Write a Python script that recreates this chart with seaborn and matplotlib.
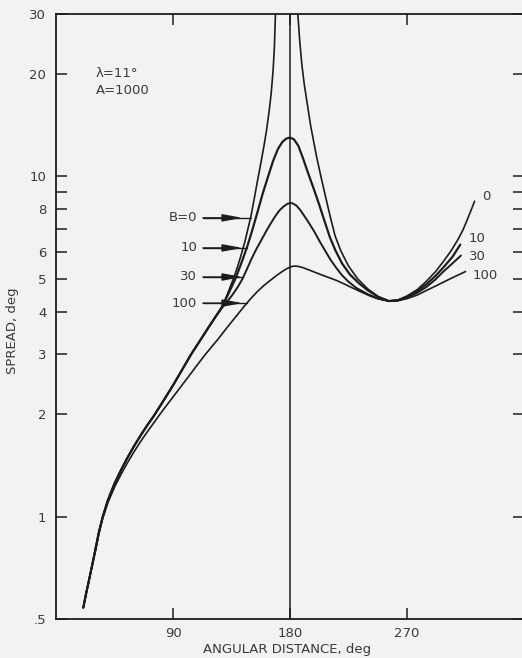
import matplotlib
matplotlib.use("Agg")
import matplotlib.pyplot as plt
import numpy as np
import pandas as pd
import seaborn as sns

# ---------------- data ----------------
# shared lower branch of the B=0, 10, 30 curves
low_deg = [21, 23, 25, 27.5, 30, 33, 36, 40, 45, 50, 55, 60, 65, 70, 75, 82, 90, 97, 104, 111, 118, 123]
low_val = [0.54, 0.59, 0.64, 0.71, 0.79, 0.9, 1.0, 1.12, 1.25, 1.37, 1.49, 1.61, 1.73, 1.85, 1.97, 2.17, 2.43, 2.7, 3.0, 3.3, 3.63, 3.88]

b0_left_deg = [128, 132, 136, 139, 142, 145.4, 148, 150, 152.5, 155, 157.5, 160, 162, 164, 165.5, 167, 168, 168.8]
b0_left_val = [4.15, 4.52, 4.95, 5.33, 5.8, 6.45, 7.1, 7.65, 8.6, 9.7, 10.9, 12.3, 13.7, 15.6, 17.5, 20.5, 24, 30]

b0_right_deg = [186, 187.5, 189, 191, 193, 196, 200.5, 204, 208, 211, 214.6, 219, 225, 232, 240, 248, 256,
                263, 270, 278, 285, 292, 298, 304, 309, 313, 316, 319, 322]
b0_right_val = [30, 25, 21.5, 18.6, 16.6, 14.0, 11.4, 9.9, 8.5, 7.6, 6.7, 6.05, 5.45, 5.0, 4.66, 4.43, 4.3,
                4.33, 4.45, 4.65, 4.92, 5.25, 5.62, 6.05, 6.5, 6.95, 7.4, 7.9, 8.45]

b10_up_deg = [128, 133, 138, 142.5, 147, 151, 155.4, 159, 163, 167, 170.8, 174, 177, 180, 183, 186.4, 190, 194,
              198, 201.8, 206, 210.8, 215, 220, 226, 233, 240, 248, 256, 263, 270, 278, 285, 292, 298, 305, 311]
b10_up_val = [4.15, 4.55, 5.0, 5.55, 6.2, 6.95, 7.95, 8.9, 9.95, 11.1, 12.05, 12.6, 12.9, 13.0, 12.85, 12.3, 11.3, 10.2,
              9.25, 8.4, 7.5, 6.6, 6.05, 5.55, 5.15, 4.85, 4.62, 4.42, 4.3, 4.32, 4.42, 4.6, 4.82, 5.1, 5.4, 5.8, 6.3]

b30_up_deg = [128, 132, 136, 140, 143.5, 147, 150, 154, 158, 161.5, 165, 168.5, 172, 175, 178, 180, 182, 185, 188,
              191.5, 195, 199, 203, 207, 211, 215, 220, 225, 231, 240, 248, 256, 263, 270, 278, 285, 292, 298, 305, 311.5]
b30_up_val = [4.12, 4.3, 4.5, 4.74, 5.0, 5.35, 5.68, 6.1, 6.5, 6.88, 7.25, 7.62, 7.95, 8.15, 8.3, 8.35, 8.33, 8.2, 7.95,
              7.6, 7.25, 6.85, 6.42, 6.05, 5.7, 5.42, 5.12, 4.9, 4.7, 4.5, 4.37, 4.3, 4.32, 4.4, 4.55, 4.73, 4.98, 5.25, 5.55, 5.85]

b100_deg = [21, 23, 25, 27.5, 30, 33, 36, 40, 45, 50, 55, 60, 65, 70, 75, 80, 87, 95, 102, 108, 115, 124, 132, 140,
            145, 150, 155, 160, 165, 169, 173, 177, 180, 183, 186, 190, 195, 200, 205, 210, 216, 222, 228, 235,
            241.5, 248, 256, 263, 270, 278, 285, 292, 300, 308, 315]
b100_val = [0.54, 0.59, 0.64, 0.71, 0.78, 0.89, 0.99, 1.1, 1.22, 1.33, 1.44, 1.55, 1.66, 1.77, 1.88, 2.0, 2.17, 2.38,
            2.58, 2.77, 3.0, 3.3, 3.61, 3.94, 4.16, 4.38, 4.59, 4.78, 4.95, 5.09, 5.22, 5.34, 5.41, 5.45, 5.44, 5.39,
            5.3, 5.21, 5.12, 5.04, 4.94, 4.82, 4.7, 4.57, 4.45, 4.36, 4.3, 4.31, 4.37, 4.48, 4.62, 4.76, 4.93, 5.1, 5.25]

# arrow labels on the left: label, value level, curve-hit angle
left_labels = ["B=0", "10", "30", "100"]
left_levels = [7.55, 6.16, 5.06, 4.24]
left_hits = [150.0, 147.0, 143.8, 147.0]

# end labels on the right
right_labels = ["0", "10", "30", "100"]
right_levels = [8.7, 6.55, 5.8, 5.1]

ytick_vals = [0.5, 1, 2, 3, 4, 5, 6, 8, 10, 20, 30]
ytick_text = [".5", "1", "2", "3", "4", "5", "6", "8", "10", "20", "30"]
yminor_vals = [7, 9]
xtick_vals = [90, 180, 270]
xtick_text = ["90", "180", "270"]

# ---------------- style ----------------
bg = "#f2f2f2"
ink = "#1c1c1c"
txt = "#3a3a3a"
fs = 9.5
sns.set_style("ticks")
plt.rcParams["font.family"] = ["DejaVu Sans"]

fig = plt.figure(figsize=(5.22, 6.58), dpi=100, facecolor=bg)
ax = fig.add_axes([56 / 522, 39 / 658, 468 / 522, 605 / 658])
ax.set_facecolor(bg)

series = [
    (low_deg + b0_left_deg, low_val + b0_left_val, 1.2),
    (b0_right_deg, b0_right_val, 1.2),
    (low_deg + b10_up_deg, low_val + b10_up_val, 1.6),
    (low_deg + b30_up_deg, low_val + b30_up_val, 1.4),
    (b100_deg, b100_val, 1.2),
]
for xs, ys, lw in series:
    df = pd.DataFrame({"deg": xs, "spread": ys})
    sns.lineplot(data=df, x="deg", y="spread", ax=ax, color=ink, lw=lw,
                 estimator=None, sort=False, legend=False)

ax.axvline(180, color=ink, lw=1.1)

ax.set_yscale("log")
ax.set_xlim(0, 360)
ax.set_ylim(0.5, 30)

ax.set_yticks(ytick_vals)
ax.set_yticklabels(ytick_text)
ax.set_yticks(yminor_vals, minor=True)
ax.set_yticklabels([], minor=True)
ax.set_xticks(xtick_vals)
ax.set_xticklabels(xtick_text)
ax.xaxis.set_minor_locator(matplotlib.ticker.NullLocator())

ax.tick_params(axis="y", which="both", direction="in", left=True, right=True,
               length=8, width=1.1, color=ink, labelcolor=txt, labelsize=fs, pad=7)
ax.tick_params(axis="x", which="both", direction="in", bottom=True, top=True,
               length=8, width=1.1, color=ink, labelcolor=txt, labelsize=fs, pad=6)

for s in ax.spines.values():
    s.set_visible(True)
    s.set_color(ink)
    s.set_linewidth(1.3)

ax.set_xlabel("ANGULAR DISTANCE, deg", color=txt, fontsize=fs, va="center")
ax.xaxis.set_label_coords(0.494, -0.051)
ax.set_ylabel("SPREAD, deg", color=txt, fontsize=fs, va="center", ha="center")
ax.yaxis.set_label_coords(-0.094, 0.476)

ax.text(0.085, 0.902, "λ=11°", transform=ax.transAxes, ha="left", va="center",
        fontsize=fs, color=txt)
ax.text(0.085, 0.874, "A=1000", transform=ax.transAxes, ha="left", va="center",
        fontsize=fs, color=txt)

# left arrow labels
for lab, lev, hit in zip(left_labels, left_levels, left_hits):
    ax.text(108.5, lev, lab, ha="right", va="center", fontsize=fs, color=txt)
    ax.plot([113, hit], [lev, lev], color=ink, lw=1.0)
    ax.annotate("", xy=(min(143.5, hit), lev), xytext=(113, lev),
                arrowprops=dict(arrowstyle="-|>,head_length=1.2,head_width=0.22",
                                color=ink, lw=1.0, shrinkA=0, shrinkB=0,
                                mutation_scale=10))

# right end labels
right_x = [327.7, 317.7, 317.7, 320.8]
for lab, lev, xx in zip(right_labels, right_levels, right_x):
    ax.text(xx, lev, lab, ha="left", va="center", fontsize=fs, color=txt)

fig.savefig("out.png", dpi=100, facecolor=bg)
